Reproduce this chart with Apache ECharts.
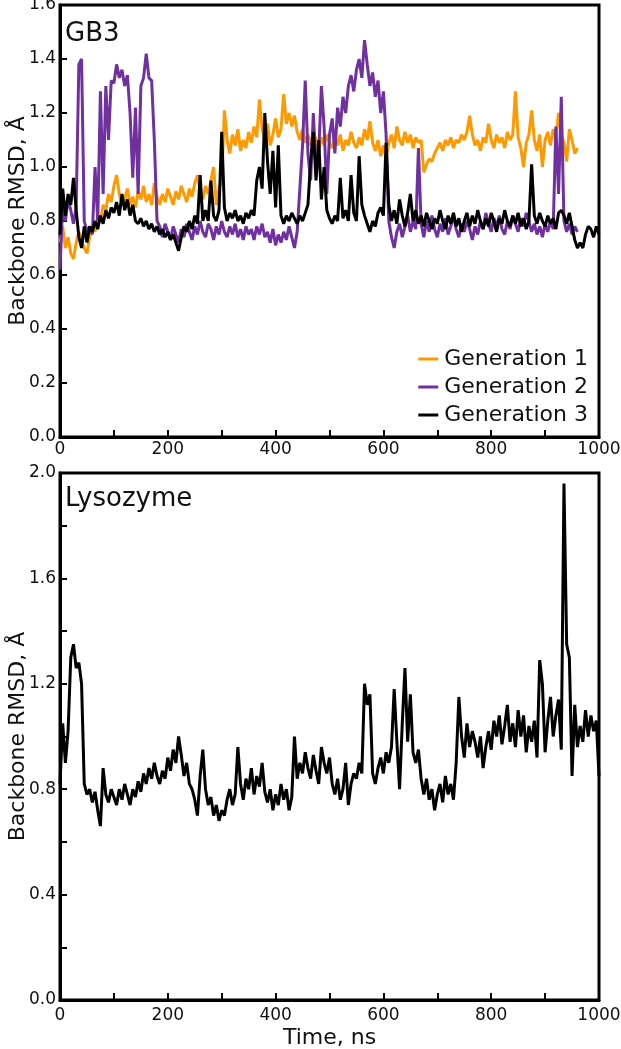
<!DOCTYPE html>
<html>
<head>
<meta charset="utf-8">
<script src="https://cdn.jsdelivr.net/npm/echarts@6/dist/echarts.min.js"></script>
<style>
html,body{margin:0;padding:0;background:#fff;}
#chart{width:621px;height:1049px;}
</style>
</head>
<body>
<div id="chart"></div>
<script>
// Time step between samples (ns)
var STEP = 5;

// GB3 – Generation 1 (0..960 ns)
var gen1 = [
0.72,0.78,0.70,0.74,0.68,0.66,0.72,0.76,0.73,0.70,
0.68,0.74,0.78,0.76,0.82,0.80,0.86,0.84,0.90,0.87,
0.93,0.97,0.90,0.86,0.88,0.92,0.86,0.89,0.85,0.91,
0.88,0.93,0.87,0.90,0.86,0.94,0.89,0.86,0.90,0.87,
0.92,0.89,0.86,0.91,0.88,0.93,0.90,0.87,0.92,0.89,
0.94,0.97,0.91,0.88,0.93,0.90,0.95,1.00,0.86,0.92,
0.95,1.21,1.10,1.05,1.12,1.08,1.14,1.06,1.10,1.07,
1.13,1.09,1.15,1.11,1.25,1.14,1.10,1.16,1.08,1.12,
1.18,1.11,1.14,1.27,1.16,1.20,1.15,1.19,1.13,1.10,
1.14,1.09,1.12,1.08,1.13,1.10,1.06,1.11,1.08,1.12,
1.09,1.07,1.11,1.08,1.12,1.06,1.10,1.08,1.13,1.09,
1.07,1.11,1.08,1.14,1.10,1.17,1.09,1.06,1.10,1.04,
1.08,1.03,1.09,1.12,1.07,1.15,1.10,1.08,1.13,1.09,
1.12,1.07,1.11,1.09,1.10,0.98,1.01,1.03,1.02,1.05,
1.07,1.09,1.06,1.10,1.08,1.11,1.07,1.10,1.09,1.12,
1.10,1.13,1.19,1.12,1.08,1.10,1.06,1.11,1.09,1.16,
1.10,1.07,1.12,1.09,1.11,1.07,1.13,1.10,1.12,1.28,
1.11,1.07,1.00,1.09,1.12,1.21,1.10,1.06,1.12,1.00,
1.10,1.13,1.08,1.14,1.11,1.20,1.12,1.09,1.02,1.14,
1.10,1.05,1.07
];

// GB3 – Generation 2 (0..960 ns)
var gen2 = [
0.62,0.86,0.80,0.88,0.84,0.79,0.85,1.38,1.40,0.80,
0.76,0.78,0.75,1.00,0.80,1.28,0.90,1.30,1.10,1.32,
1.31,1.38,1.33,1.36,1.30,1.34,1.20,0.96,1.22,0.90,
1.30,1.33,1.42,1.33,1.32,1.10,0.80,0.78,0.74,0.79,
0.76,0.73,0.78,0.75,0.72,0.77,0.74,0.79,0.76,0.73,
0.78,0.75,0.80,0.76,0.74,0.79,0.77,0.73,0.78,0.75,
0.80,0.76,0.74,0.78,0.75,0.79,0.74,0.77,0.73,0.78,
0.75,0.77,0.73,0.78,0.75,0.79,0.74,0.76,0.72,0.77,
0.71,0.75,0.72,0.76,0.73,0.78,0.74,0.70,0.76,0.92,
1.08,1.32,1.05,0.95,1.20,1.00,1.05,1.30,1.15,0.90,
1.12,1.18,1.05,1.22,1.15,1.26,1.20,1.30,1.34,1.28,
1.36,1.40,1.33,1.47,1.38,1.30,1.35,1.26,1.32,1.20,
1.28,1.12,0.80,0.74,0.70,0.76,0.79,0.74,0.78,0.82,
0.76,0.80,0.77,1.07,0.79,0.74,0.80,0.76,0.82,0.77,
0.74,0.79,0.76,0.81,0.75,0.78,0.82,0.77,0.74,0.79,
0.76,0.80,0.77,0.73,0.78,0.75,0.80,0.77,0.83,0.79,
0.76,0.81,0.78,0.82,0.77,0.75,0.80,0.77,0.82,0.79,
0.76,0.81,0.78,0.83,0.80,0.76,0.79,0.75,0.78,0.74,
0.79,0.76,0.80,0.77,1.15,0.90,1.26,0.80,0.76,0.79,
0.75,0.78,0.76
];

// GB3 – Generation 3 (0..1000 ns)
var gen3 = [
0.75,0.92,0.82,0.90,0.86,0.96,0.84,0.74,0.70,0.78,
0.72,0.78,0.76,0.80,0.77,0.82,0.79,0.84,0.81,0.85,
0.83,0.87,0.82,0.90,0.84,0.88,0.82,0.86,0.80,0.79,
0.81,0.78,0.80,0.77,0.79,0.76,0.78,0.75,0.77,0.74,
0.76,0.73,0.75,0.72,0.69,0.74,0.78,0.76,0.80,0.77,
0.82,0.79,0.97,0.80,0.84,0.80,0.95,0.82,0.80,0.84,
1.13,0.85,0.80,0.83,0.81,0.84,0.80,0.82,0.79,0.83,
0.81,0.84,0.82,0.95,1.00,0.92,1.20,1.02,0.90,1.06,
0.85,1.08,0.82,0.79,0.82,0.80,0.83,0.81,0.79,0.82,
0.80,0.83,0.86,1.02,1.13,0.95,1.10,0.88,1.00,0.84,
0.81,0.79,0.82,0.80,0.96,0.81,0.84,0.80,0.97,0.83,
0.80,1.04,0.86,0.82,0.79,0.76,0.80,0.78,0.83,0.85,
0.82,1.09,0.86,0.80,0.84,0.79,0.88,0.82,0.78,0.83,
0.90,0.80,0.84,0.79,0.82,0.78,0.83,0.80,0.77,0.81,
0.79,0.84,0.80,0.77,0.82,0.79,0.83,0.78,0.81,0.76,
0.80,0.83,0.78,0.82,0.79,0.84,0.80,0.77,0.81,0.78,
0.83,0.80,0.76,0.81,0.79,0.84,0.80,0.78,0.82,0.79,
0.83,0.78,0.81,0.77,0.80,1.01,0.82,0.79,0.83,0.80,
0.78,0.82,0.79,0.81,0.77,0.83,0.84,0.82,0.79,0.83,
0.78,0.73,0.70,0.72,0.70,0.75,0.78,0.77,0.74,0.78,
0.75
];

// Lysozyme (0..1000 ns)
var lyso = [
0.82,1.05,0.90,1.02,1.30,1.35,1.26,1.28,1.20,0.82,
0.78,0.80,0.75,0.79,0.72,0.66,0.88,0.78,0.75,0.80,
0.77,0.74,0.80,0.76,0.82,0.78,0.74,0.80,0.77,0.83,
0.79,0.86,0.82,0.88,0.84,0.90,0.85,0.82,0.87,0.84,
0.92,0.87,0.95,0.90,1.00,0.93,0.85,0.90,0.82,0.80,
0.76,0.70,0.85,0.95,0.80,0.74,0.77,0.70,0.74,0.68,
0.72,0.70,0.76,0.80,0.74,0.78,0.96,0.82,0.76,0.84,
0.80,0.88,0.78,0.85,0.81,0.90,0.79,0.75,0.80,0.72,
0.78,0.74,0.82,0.76,0.80,0.72,0.77,1.00,0.84,0.90,
0.86,0.94,0.88,0.84,0.93,0.87,0.82,0.96,0.90,0.86,
0.92,0.82,0.78,0.84,0.76,0.80,0.90,0.74,0.82,0.86,
0.84,0.90,0.86,1.20,1.12,1.16,0.86,0.82,0.88,0.92,
0.86,0.94,0.90,0.96,1.18,0.98,0.80,1.05,1.26,0.98,
1.16,0.94,0.90,0.95,0.84,0.78,0.84,0.76,0.80,0.72,
0.78,0.82,0.75,0.85,0.78,0.82,0.76,0.90,1.15,1.00,
0.92,1.05,0.96,1.02,0.98,0.92,1.00,0.88,0.96,1.02,
0.95,1.06,1.00,1.08,0.97,1.04,1.12,0.98,1.05,0.96,
1.10,1.00,1.08,0.94,1.04,0.98,1.06,0.92,1.29,1.20,
0.94,1.06,1.15,1.00,1.08,1.14,0.95,1.96,1.35,1.30,
0.85,1.12,0.96,1.04,0.98,1.10,1.00,1.08,1.02,1.06,
0.85
];

var seriesNames = ['Generation 1', 'Generation 2', 'Generation 3'];
var panelTitles = ['GB3', 'Lysozyme'];
var xTicks = [0, 200, 400, 600, 800, 1000];
var yTitle = 'Backbone RMSD, \u00C5';
var xTitle = 'Time, ns';

function toXY(arr) {
  return arr.map(function (v, i) { return [i * STEP, v]; });
}

var FONT = 'DejaVu Sans';
var chart = echarts.init(document.getElementById('chart'), null, {renderer: 'canvas'});

function xAxisCfg(gridIndex, margin, withName) {
  return {
    type: 'value', gridIndex: gridIndex, min: 0, max: 1000, interval: 100,
    axisLine: {show: true, onZero: false, lineStyle: {color: '#000', width: 3}},
    axisTick: {show: true, inside: true, length: 7, lineStyle: {color: '#000', width: 2}},
    axisLabel: {
      margin: margin, fontFamily: FONT, fontSize: 17, color: '#111',
      formatter: function (v) { return xTicks.indexOf(v) >= 0 ? String(v) : ''; }
    },
    splitLine: {show: false},
    name: withName ? xTitle : '',
    nameLocation: 'middle', nameGap: 27, nameMoveOverlap: false,
    nameTextStyle: {fontFamily: FONT, fontSize: 22, color: '#111'}
  };
}
function yAxisCfg(gridIndex, max, everyOther) {
  return {
    type: 'value', gridIndex: gridIndex, min: 0, max: max, interval: 0.2,
    axisLine: {show: true, onZero: false, lineStyle: {color: '#000', width: 3}},
    axisTick: {show: true, inside: true, length: 7, lineStyle: {color: '#000', width: 2}},
    axisLabel: {
      margin: 4, fontFamily: FONT, fontSize: 17, color: '#111',
      formatter: function (v) {
        var k = Math.round(v * 10);
        if (everyOther && k % 4 !== 0) return '';
        return (k / 10).toFixed(1);
      }
    },
    splitLine: {show: false},
    name: yTitle, nameLocation: 'middle', nameGap: 31, nameRotate: 90, nameMoveOverlap: false,
    nameTextStyle: {fontFamily: FONT, fontSize: 22, color: '#111'}
  };
}

var option = {
  animation: false,
  backgroundColor: '#fff',
  title: [
    {text: panelTitles[0], left: 65, top: 21, textStyle: {fontFamily: FONT, fontSize: 26, fontWeight: 'normal', color: '#111'}, padding: 0},
    {text: panelTitles[1], left: 65, top: 486, textStyle: {fontFamily: FONT, fontSize: 26, fontWeight: 'normal', color: '#111'}, padding: 0}
  ],
  grid: [
    {left: 60, right: 22, top: 5, height: 432, show: true, borderColor: '#000', borderWidth: 3, backgroundColor: 'transparent', containLabel: false, outerBoundsMode: 'none'},
    {left: 60, right: 22, top: 473, height: 527, show: true, borderColor: '#000', borderWidth: 3, backgroundColor: 'transparent', containLabel: false, outerBoundsMode: 'none'}
  ],
  legend: {
    data: seriesNames,
    orient: 'vertical', right: 33, top: 348, padding: 0,
    icon: 'rect', itemWidth: 20, itemHeight: 3, itemGap: 6,
    textStyle: {fontFamily: FONT, fontSize: 22, color: '#111', padding: [0, 0, 0, 1]},
    selectedMode: false
  },
  xAxis: [xAxisCfg(0, 4, false), xAxisCfg(1, 7, true)],
  yAxis: [yAxisCfg(0, 1.6, false), yAxisCfg(1, 2.0, true)],
  series: [
    {name: seriesNames[0], type: 'line', xAxisIndex: 0, yAxisIndex: 0, data: toXY(gen1), showSymbol: false, symbol: 'none', lineStyle: {color: '#ff9900', width: 3}, itemStyle: {color: '#ff9900'}},
    {name: seriesNames[1], type: 'line', xAxisIndex: 0, yAxisIndex: 0, data: toXY(gen2), showSymbol: false, symbol: 'none', lineStyle: {color: '#7030a0', width: 3}, itemStyle: {color: '#7030a0'}},
    {name: seriesNames[2], type: 'line', xAxisIndex: 0, yAxisIndex: 0, data: toXY(gen3), showSymbol: false, symbol: 'none', lineStyle: {color: '#000000', width: 3}, itemStyle: {color: '#000000'}},
    {name: 'Lysozyme', type: 'line', xAxisIndex: 1, yAxisIndex: 1, data: toXY(lyso), showSymbol: false, symbol: 'none', lineStyle: {color: '#000000', width: 3}, itemStyle: {color: '#000000'}}
  ]
};
chart.setOption(option);
</script>
</body>
</html>
